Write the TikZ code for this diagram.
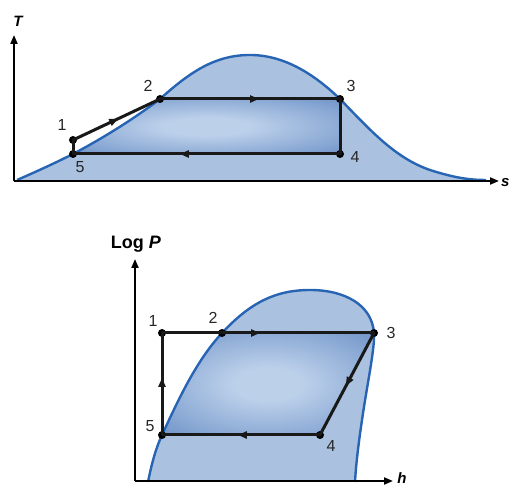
\documentclass[tikz,border=0pt]{standalone}
\usepackage{fontspec}
\setmainfont{Liberation Sans}
\usetikzlibrary{arrows.meta,decorations.markings}
\definecolor{domeline}{RGB}{40,100,180}
\definecolor{domefill}{RGB}{170,194,224}
\definecolor{innerdark}{RGB}{68,114,182}
\definecolor{innerlight}{RGB}{188,208,234}
\pgfdeclareradialshading{innershade}{\pgfpoint{0bp}{0bp}}{color(0bp)=(innerlight); color(8bp)=(innerlight); color(52bp)=(innerdark); color(100bp)=(innerdark)}
\tikzset{
  axis/.style={line width=2pt, -{Triangle[length=9pt,width=7pt]}},
  domefillst/.style={fill=domefill},
  domeline/.style={draw=domeline, line width=2.4pt},
  cyc/.style={line width=3pt, black!90, line cap=round},
  midarrow/.style={postaction={decorate}, decoration={markings,
      mark=at position #1 with {\arrow{Triangle[length=9pt,width=7pt]}}}},
  dot/.style={circle, fill=black, inner sep=0pt, minimum size=8pt},
  lab/.style={font=\fontsize{16}{18}\selectfont, inner sep=0pt, text=black!85},
  axlab/.style={font=\fontsize{15}{17}\selectfont\bfseries\itshape, inner sep=0pt},
  innerst/.style={shading=innershade},
}
\begin{document}
\begin{tikzpicture}[x=1pt, y=-1pt]
\useasboundingbox (0,0) rectangle (512,486);
% ---------------- top T-s diagram ----------------
\fill[domefillst] (17,180) .. controls (40,170) and (55,163) .. (73,154)
  .. controls (105,137) and (135,118) .. (160,99)
  .. controls (190,72) and (215,55) .. (250,55)
  .. controls (285,55) and (315,75) .. (340,99)
  .. controls (370,130) and (395,158) .. (430,170)
  .. controls (455,178) and (470,180) .. (486,180) -- cycle;
\begin{scope}
  \clip (17,180) .. controls (40,170) and (55,163) .. (73,154)
  .. controls (105,137) and (135,118) .. (160,99)
  .. controls (190,72) and (215,55) .. (250,55)
  .. controls (285,55) and (315,75) .. (340,99)
  .. controls (370,130) and (395,158) .. (430,170)
  .. controls (455,178) and (470,180) .. (486,180) -- cycle;
  \shade[innerst] (73,99) rectangle (340,154);
\end{scope}
\draw[domeline] (17,180) .. controls (40,170) and (55,163) .. (73,154)
  .. controls (105,137) and (135,118) .. (160,99)
  .. controls (190,72) and (215,55) .. (250,55)
  .. controls (285,55) and (315,75) .. (340,99)
  .. controls (370,130) and (395,158) .. (430,170)
  .. controls (455,178) and (470,180) .. (486,180);
\coordinate (o1) at (14,181);
\coordinate (ty) at (14,35);
\coordinate (sx) at (499,181);
\draw[axis] (o1) -- (ty);
\draw[axis] (o1) -- (sx);
\node[axlab] (tl) at (18,21) {T};
\node[axlab, anchor=west] (sl) at (501,183) {s};
\node[dot] (a1) at (73,140) {};
\node[dot] (a2) at (160,99) {};
\node[dot] (a3) at (340,99) {};
\node[dot] (a4) at (340,154) {};
\node[dot] (a5) at (73,154) {};
\draw[cyc, midarrow=0.52] (a1.center) -- (a2.center);
\draw[cyc, midarrow=0.55] (a2.center) -- (a3.center);
\draw[cyc] (a3.center) -- (a4.center);
\draw[cyc, midarrow=0.6] (a4.center) -- (a5.center);
\draw[cyc] (a5.center) -- (a1.center);
\node[lab] (l1) at (62,125) {1};
\node[lab] (l2) at (148,86) {2};
\node[lab] (l3) at (351,86) {3};
\node[lab] (l4) at (355,157) {4};
\node[lab] (l5) at (80,167) {5};
% ---------------- bottom log P - h diagram ----------------
\fill[domefillst] (148,482) .. controls (152,462) and (156,448) .. (162,435)
  .. controls (176,405) and (195,362) .. (222,333)
  .. controls (250,303) and (275,290) .. (310,290)
  .. controls (345,290) and (372,305) .. (374,333)
  .. controls (375,348) and (367,385) .. (362,420)
  .. controls (358,447) and (356,465) .. (355,482) -- cycle;
\begin{scope}
  \clip (148,482) .. controls (152,462) and (156,448) .. (162,435)
  .. controls (176,405) and (195,362) .. (222,333)
  .. controls (250,303) and (275,290) .. (310,290)
  .. controls (345,290) and (372,305) .. (374,333)
  .. controls (375,348) and (367,385) .. (362,420)
  .. controls (358,447) and (356,465) .. (355,482) -- cycle;
  \shade[innerst] (162,435) -- (162,333) -- (374,333) -- (320,435) -- cycle;
\end{scope}
\draw[domeline] (148,482) .. controls (152,462) and (156,448) .. (162,435)
  .. controls (176,405) and (195,362) .. (222,333)
  .. controls (250,303) and (275,290) .. (310,290)
  .. controls (345,290) and (372,305) .. (374,333)
  .. controls (375,348) and (367,385) .. (362,420)
  .. controls (358,447) and (356,465) .. (355,482);
\coordinate (o2) at (135,481);
\coordinate (py) at (135,259);
\coordinate (hx) at (393,481);
\draw[axis] (o2) -- (py);
\draw[axis] (o2) -- (hx);
\node[inner sep=0pt, font=\fontsize{18}{20}\selectfont\bfseries] (lp) at (136,244) {Log \textit{P}};
\node[axlab] (hl) at (402,478) {h};
\node[dot] (b1) at (162,333) {};
\node[dot] (b2) at (222,333) {};
\node[dot] (b3) at (374,333) {};
\node[dot] (b4) at (320,435) {};
\node[dot] (b5) at (162,435) {};
\draw[cyc] (b1.center) -- (b2.center);
\draw[cyc, midarrow=0.25] (b2.center) -- (b3.center);
\draw[cyc, midarrow=0.52] (b3.center) -- (b4.center);
\draw[cyc, midarrow=0.52] (b4.center) -- (b5.center);
\draw[cyc, midarrow=0.56] (b5.center) -- (b1.center);
\node[lab] (m1) at (153,321) {1};
\node[lab] (m2) at (213,318) {2};
\node[lab] (m3) at (391,333) {3};
\node[lab] (m4) at (331,446) {4};
\node[lab] (m5) at (150,426) {5};
\end{tikzpicture}
\end{document}
